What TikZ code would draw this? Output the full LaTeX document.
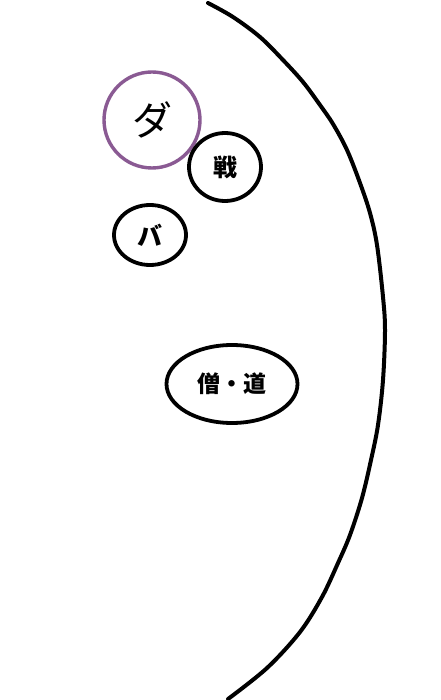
\documentclass[tikz,border=0pt]{standalone}
\usepackage{fontspec}
\newfontfamily\jp{Noto Sans CJK JP}
\newfontfamily\jpm{Noto Sans CJK JP Medium}
\definecolor{dapurple}{HTML}{8A5A93}
\usetikzlibrary{shapes.geometric}
\tikzset{
  ring/.style={draw=black, line width=3.8pt, ellipse, inner sep=0pt},
  lbl/.style={font=\jp\bfseries\fontsize{24}{26}\selectfont}
}
\begin{document}
\begin{tikzpicture}[x=1pt,y=-1pt]
\useasboundingbox[fill=white] (0,0) rectangle (440,700);
\draw[line width=4pt, line cap=round] plot[smooth, tension=0.55] coordinates {
 (208,3) (233,17) (260,37) (283,60) (303,82) (320,105) (333,124) (347,150)
 (360,183) (370,213) (377,245) (383,297) (385,330) (383,380) (378,425)
 (371,460) (362,498) (350,535) (338,563) (322,597) (300,632) (267,668) (228,699)};
\node[ellipse, draw=dapurple, line width=3.4pt, minimum width=96pt, minimum height=96pt,
  inner sep=0pt, font=\jp\fontsize{40}{42}\selectfont] (da) at (152,120) {ダ};
\node[ring, minimum width=72pt, minimum height=68pt, lbl] (sen) at (225,167) {戦};
\node[ring, minimum width=72pt, minimum height=60pt, font=\jp\bfseries\fontsize{25}{27}\selectfont] (ba) at (150,235) {バ};
\node[ring, minimum width=131pt, minimum height=78pt, font=\jp\bfseries\fontsize{23}{25}\selectfont] (so) at (232,384) {僧・道};
\end{tikzpicture}
\end{document}
